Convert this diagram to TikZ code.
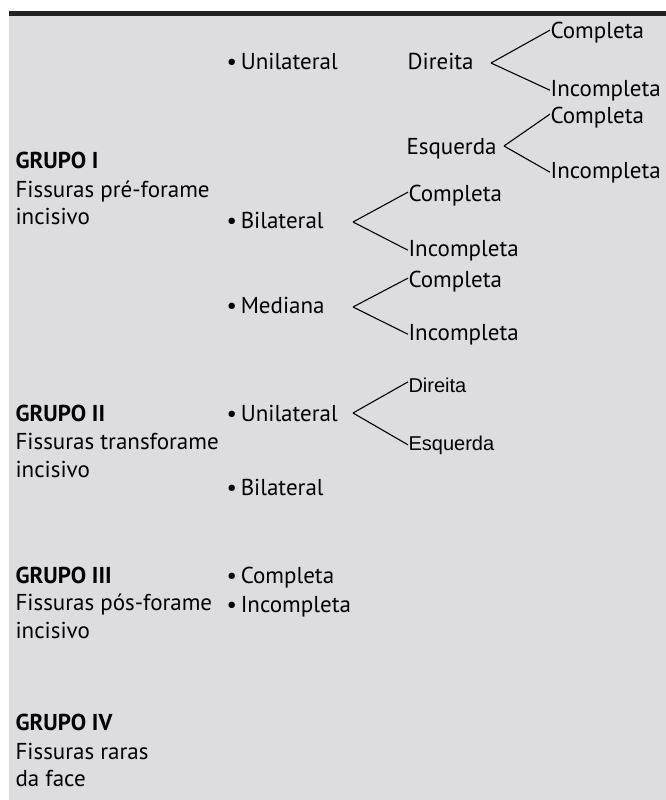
\documentclass[tikz,border=0pt]{standalone}
\usepackage{fontspec}
\setmainfont{PT Sans}
\newfontfamily\arialfont{Liberation Sans}
\definecolor{panelgray}{RGB}{221,221,223}
\definecolor{rulegray}{RGB}{35,35,35}

\begin{document}
\begin{tikzpicture}[x=1pt,y=-1pt,line width=1.1pt,
    every node/.style={inner sep=0pt,anchor=base west},
    txt/.style={font=\fontsize{23}{27}\selectfont},
    grp/.style={font=\fontsize{23}{27}\selectfont\bfseries},
    sml/.style={font=\arialfont\fontsize{20}{23}\selectfont}]
\useasboundingbox (0,0) rectangle (666,800);
\fill[panelgray] (9,16) rectangle (666,800);
\fill[rulegray] (9,11) rectangle (666,16);

% grupos
\node[grp] (g1) at (15,168) {GRUPO I};
\node[txt] (g1a) at (15,197) {Fissuras pré-forame};
\node[txt] (g1b) at (15,224) {incisivo};
\node[grp] (g2) at (15,421) {GRUPO II};
\node[txt] (g2a) at (15,449) {Fissuras transforame};
\node[txt] (g2b) at (15,477) {incisivo};
\node[grp] (g3) at (15,583) {GRUPO III};
\node[txt] (g3a) at (15,610) {Fissuras pós-forame};
\node[txt] (g3b) at (15,638) {incisivo};
\node[grp] (g4) at (15,730) {GRUPO IV};
\node[txt] (g4a) at (15,759) {Fissuras raras};
\node[txt] (g4b) at (15,786) {da face};

% grupo I
\node[txt] (uniI) at (226,70) {•\,Unilateral};
\node[txt] (dirI) at (407,70) {Direita};
\node[txt] (dirIcomp) at (550,39) {Completa};
\node[txt] (dirIinc) at (550,96) {Incompleta};
\node[txt] (esqI) at (406,154) {Esquerda};
\node[txt] (esqIcomp) at (550,123) {Completa};
\node[txt] (esqIinc) at (550,178) {Incompleta};
\node[txt] (bilI) at (226,228) {•\,Bilateral};
\node[txt] (bilIcomp) at (408,201) {Completa};
\node[txt] (bilIinc) at (408,256) {Incompleta};
\node[txt] (medI) at (226,313) {•\,Mediana};
\node[txt] (medIcomp) at (408,287) {Completa};
\node[txt] (medIinc) at (408,340) {Incompleta};
\coordinate (dirIapex) at (491,63);
\coordinate (esqIapex) at (504,146);
\coordinate (bilIapex) at (353,222);
\coordinate (medIapex) at (353,307);

% grupo II
\node[txt] (uniII) at (226,421) {•\,Unilateral};
\node[sml] (dirII) at (408,392) {Direita};
\node[sml] (esqII) at (408,450) {Esquerda};
\node[txt] (bilII) at (226,495) {•\,Bilateral};
\coordinate (uniIIapex) at (353,413);

% grupo III
\node[txt] (compIII) at (226,583) {•\,Completa};
\node[txt] (incIII) at (226,612) {•\,Incompleta};

\foreach \ap/\up/\lo in {dirIapex/dirIcomp/dirIinc, esqIapex/esqIcomp/esqIinc,
    bilIapex/bilIcomp/bilIinc, medIapex/medIcomp/medIinc, uniIIapex/dirII/esqII}{
    \draw (\ap) -- ([yshift=3pt]\up.west);
    \draw (\ap) -- (\lo.west);
}
\end{tikzpicture}
\end{document}
